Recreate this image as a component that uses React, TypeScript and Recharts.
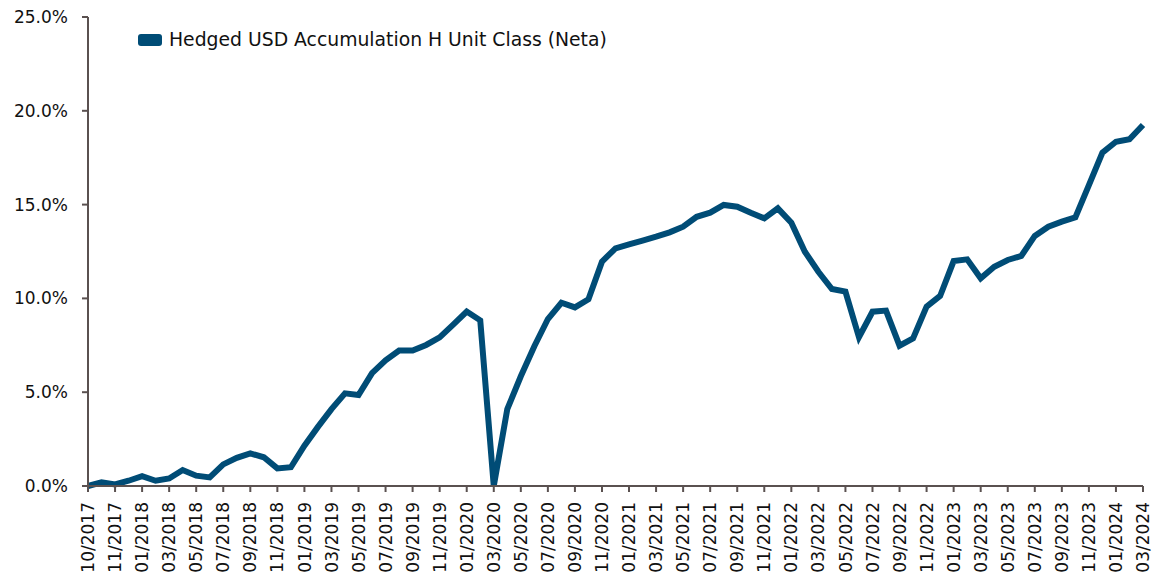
import { LineChart, Line, XAxis, YAxis } from "recharts";

const months = [
  "10/2017", "10/2017", "11/2017", "12/2017",
  "01/2018", "02/2018", "03/2018", "04/2018", "05/2018", "06/2018",
  "07/2018", "08/2018", "09/2018", "10/2018", "11/2018", "12/2018",
  "01/2019", "02/2019", "03/2019", "04/2019", "05/2019", "06/2019",
  "07/2019", "08/2019", "09/2019", "10/2019", "11/2019", "12/2019",
  "01/2020", "02/2020", "03/2020", "04/2020", "05/2020", "06/2020",
  "07/2020", "08/2020", "09/2020", "10/2020", "11/2020", "12/2020",
  "01/2021", "02/2021", "03/2021", "04/2021", "05/2021", "06/2021",
  "07/2021", "08/2021", "09/2021", "10/2021", "11/2021", "12/2021",
  "01/2022", "02/2022", "03/2022", "04/2022", "05/2022", "06/2022",
  "07/2022", "08/2022", "09/2022", "10/2022", "11/2022", "12/2022",
  "01/2023", "02/2023", "03/2023", "04/2023", "05/2023", "06/2023",
  "07/2023", "08/2023", "09/2023", "10/2023", "11/2023", "12/2023",
  "01/2024", "02/2024", "03/2024",
];

// cumulative return, %
const returns = [
  0.0, 0.2, 0.08, 0.28, 0.52, 0.28, 0.4, 0.85, 0.55, 0.46,
  1.15, 1.5, 1.74, 1.53, 0.94, 1.0, 2.15, 3.15, 4.1, 4.94,
  4.85, 6.02, 6.7, 7.22, 7.22, 7.52, 7.92, 8.6, 9.3, 8.83,
  0.0, 4.1, 5.85, 7.45, 8.9, 9.77, 9.52, 9.95, 11.96, 12.67,
  12.88, 13.08, 13.29, 13.52, 13.82, 14.35, 14.57, 14.98, 14.89, 14.57,
  14.27, 14.8, 14.03, 12.49, 11.42, 10.5, 10.36, 7.93, 9.29, 9.35,
  7.48, 7.87, 9.56, 10.13, 11.99, 12.08, 11.07, 11.69, 12.05, 12.26,
  13.33, 13.82, 14.09, 14.32, 16.04, 17.77, 18.35, 18.48, 19.24,
];

const yTicks = [0, 5, 10, 15, 20, 25];

const seriesName = "Hedged USD Accumulation H Unit Class (Neta)";
const lineColor = "#004C76";
const axisColor = "#5a5150";
const font = "DejaVu Sans";

const data = months.map((m, i) => ({ month: m, value: returns[i] }));

function MonthTick({ x, y, payload }: any) {
  return (
    <text
      x={x}
      y={y + 8}
      transform={`rotate(-90, ${x}, ${y + 8})`}
      textAnchor="end"
      dy="0.36em"
      fontFamily={font}
      fontSize={17}
      fill="#111"
    >
      {payload.value}
    </text>
  );
}

export default function App() {
  return (
    <div style={{ position: "absolute", left: 0, top: 0, width: 1163, height: 581, background: "#fff" }}>
      <LineChart
        width={1163}
        height={581}
        data={data}
        margin={{ top: 17, right: 20, bottom: 0, left: 0 }}
      >
        <XAxis
          dataKey="month"
          interval={1}
          tick={<MonthTick />}
          tickSize={6}
          height={95}
          stroke={axisColor}
          strokeWidth={2}
        />
        <YAxis
          domain={[0, 25]}
          ticks={yTicks}
          tickFormatter={(v: number) => `${v.toFixed(1)}%`}
          tickSize={6}
          tickMargin={14}
          width={88}
          stroke={axisColor}
          strokeWidth={2}
          tick={{ fontFamily: font, fontSize: 17, fill: "#111" }}
        />
        <Line
          dataKey="value"
          stroke={lineColor}
          strokeWidth={6}
          dot={false}
          activeDot={false}
          isAnimationActive={false}
        />
      </LineChart>
      <div
        style={{
          position: "absolute",
          left: 138,
          top: 29,
          display: "flex",
          alignItems: "center",
          fontFamily: font,
          fontSize: 18.8,
          color: "#111",
          whiteSpace: "nowrap",
        }}
      >
        <span
          style={{
            display: "inline-block",
            width: 24,
            height: 12,
            borderRadius: 3,
            background: lineColor,
            marginRight: 7,
          }}
        />
        {seriesName}
      </div>
    </div>
  );
}
